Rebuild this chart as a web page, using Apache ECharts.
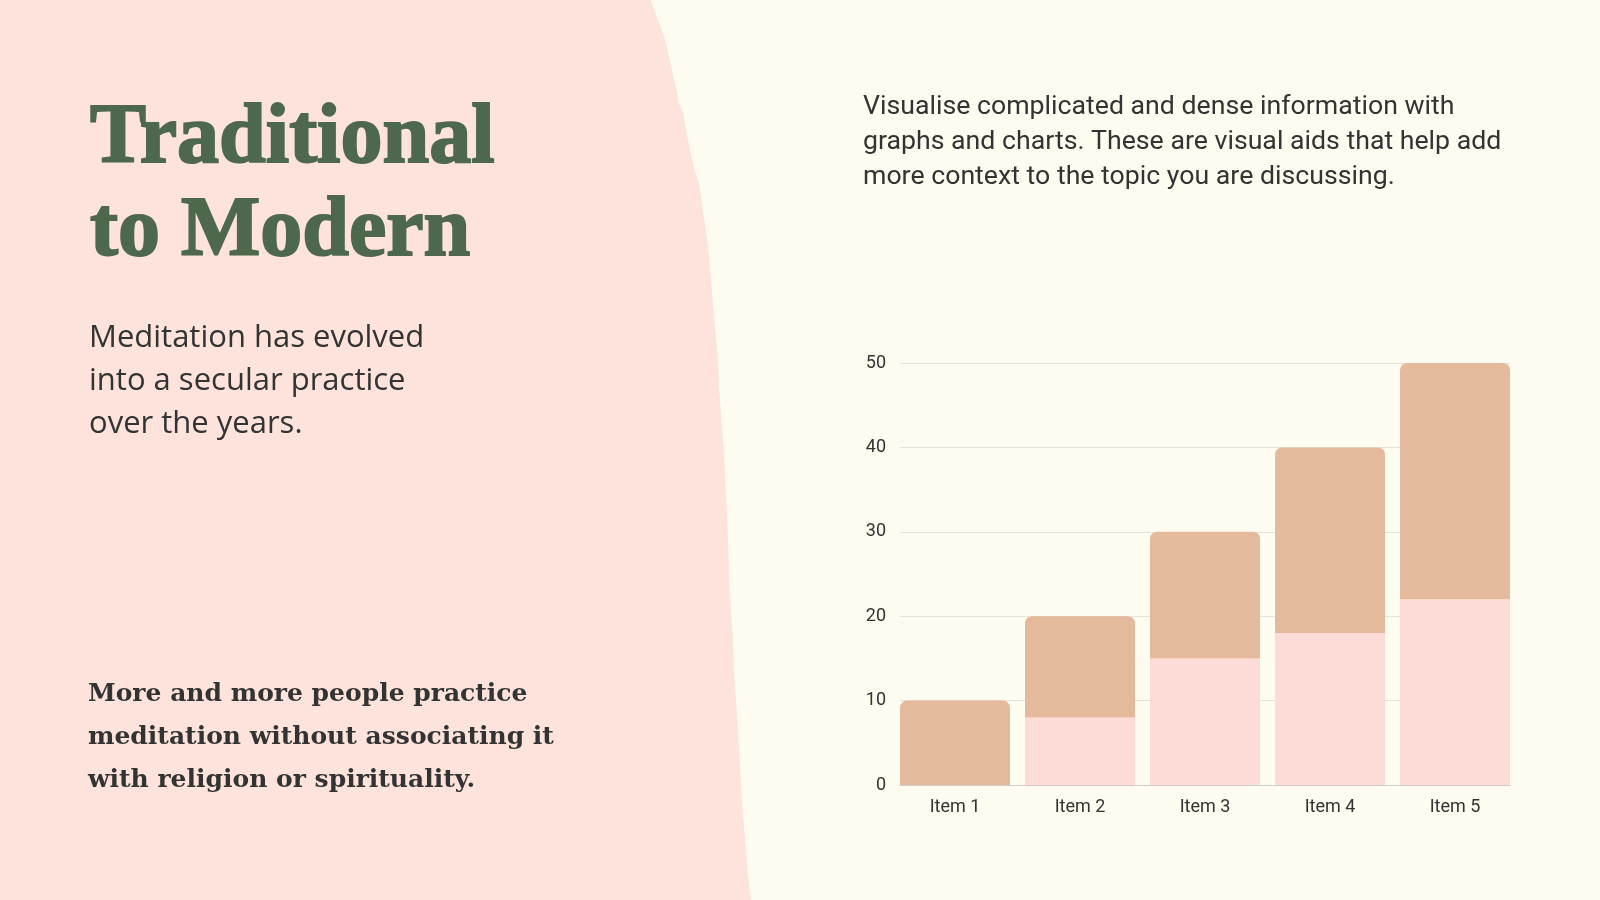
<!DOCTYPE html>
<html lang="en">
<head>
    <meta charset="UTF-8">
    <title>Traditional to Modern</title>
    <script src="https://cdn.jsdelivr.net/npm/echarts@6/dist/echarts.min.js"></script>
    <style type="text/css">
        html{
          height: 100%;
          margin: 0;
        }
        body{
          width: 100%;
          height: 100%;
          margin: 0;
          background-color: #FEFCF1;
        }
        #main{
            width: 1600px;
            height: 900px;
            margin: 0;
        }
    </style>
</head>
<body>
    <div id="main"></div>
    <script type="text/javascript">
        // chart data
        var categories = ['Item 1', 'Item 2', 'Item 3', 'Item 4', 'Item 5'];
        var lowerValues = [0, 8, 15, 18, 22];
        var upperValues = [10, 12, 15, 22, 28];
        var yTicks = [0, 10, 20, 30, 40, 50];

        // texts
        var titleLines = ['Traditional', 'to Modern'];
        var introLines = ['Meditation has evolved', 'into a secular practice', 'over the years.'];
        var boldLines = ['More and more people practice', 'meditation without associating it', 'with religion or spirituality.'];
        var paraLines = [
            'Visualise complicated and dense information with',
            'graphs and charts. These are visual aids that help add',
            'more context to the topic you are discussing.'
        ];

        // torn paper edge of the pink panel (decoration)
        var tornEdge = [
            [651, 0], [657, 18], [664, 36], [668, 52], [672, 70], [676, 88],
            [679, 104], [683, 112], [686, 130], [690, 150], [694, 168], [699, 184],
            [702, 205], [705, 224], [709, 255], [711, 280], [713, 305], [716, 337],
            [718, 360], [719, 385], [722, 429], [724, 450], [725, 475], [727, 510],
            [728, 540], [729, 575], [731, 612], [733, 640], [734, 670], [737, 714],
            [739, 750], [741, 785], [743, 816], [746, 850], [748, 875], [751, 900]
        ];

        function textLines(lines, x, y0, step, font, color, stroke) {
            var out = [];
            for (var i = 0; i < lines.length; i++) {
                var st = {
                    text: lines[i],
                    font: font,
                    fill: color
                };
                if (stroke) {
                    // fake a heavier weight
                    st.stroke = color;
                    st.lineWidth = stroke;
                }
                out.push({
                    type: 'text',
                    left: x,
                    top: y0 + i * step,
                    z: 10,
                    style: st
                });
            }
            return out;
        }

        function show(){
            var chartDom = document.getElementById('main');
            var myChart = echarts.init(chartDom);
            var option;

            var panel = [[0, 0]].concat(tornEdge).concat([[0, 900]]);

            var graphics = [{
                type: 'polygon',
                z: -10,
                silent: true,
                shape: { points: panel },
                style: { fill: '#FDE3DC' }
            }];
            graphics = graphics
                .concat(textLines(titleLines, 89, 97, 93, 'bold 84px "Liberation Serif"', '#4E684E', 2))
                .concat(textLines(introLines, 89, 323, 43, '31px "Open Sans"', '#333333'))
                .concat(textLines(boldLines, 88, 682, 43, 'bold 25px "DejaVu Serif"', '#333333'))
                .concat(textLines(paraLines, 863, 94, 34.7, '26.7px Roboto', '#333333'));

            var labelStyle = {
                color: '#333333',
                fontSize: 18,
                fontFamily: 'Roboto'
            };

            option = {
                backgroundColor: '#FEFCF1',
                animation: false,
                graphic: graphics,
                grid: [
                    // axes and gridlines
                    { left: 900, right: 90, top: 363, bottom: 115 },
                    // bars run edge to edge of the gridlines
                    { left: 892.5, right: 82.5, top: 363, bottom: 115 }
                ],
                xAxis: [
                    {
                        gridIndex: 0,
                        type: 'category',
                        data: categories,
                        axisTick: { show: false },
                        axisLabel: { show: false },
                        axisLine: {
                            lineStyle: { color: '#CFCFC6', width: 1 }
                        }
                    },
                    {
                        gridIndex: 1,
                        type: 'category',
                        data: categories,
                        axisTick: { show: false },
                        axisLine: { show: false },
                        axisLabel: Object.assign({ margin: 13 }, labelStyle)
                    }
                ],
                yAxis: [
                    {
                        gridIndex: 0,
                        type: 'value',
                        min: yTicks[0],
                        max: yTicks[yTicks.length - 1],
                        interval: yTicks[1] - yTicks[0],
                        axisLine: { show: false },
                        axisTick: { show: false },
                        axisLabel: Object.assign({ margin: 14 }, labelStyle),
                        splitLine: {
                            lineStyle: { color: '#E3E3D8', width: 1 }
                        }
                    },
                    {
                        gridIndex: 1,
                        type: 'value',
                        min: yTicks[0],
                        max: yTicks[yTicks.length - 1],
                        interval: yTicks[1] - yTicks[0],
                        show: false
                    }
                ],
                series: [
                    {
                        name: 'lower',
                        type: 'bar',
                        xAxisIndex: 1,
                        yAxisIndex: 1,
                        stack: 'total',
                        barCategoryGap: '12%',
                        data: lowerValues,
                        itemStyle: { color: '#FDDCD8' }
                    },
                    {
                        name: 'upper',
                        type: 'bar',
                        xAxisIndex: 1,
                        yAxisIndex: 1,
                        stack: 'total',
                        barCategoryGap: '12%',
                        data: upperValues,
                        itemStyle: {
                            color: '#E5B99B',
                            borderRadius: [7, 7, 0, 0]
                        }
                    }
                ]
            };

            myChart.setOption(option);
        }
        show();

    </script>
</body>
</html>
